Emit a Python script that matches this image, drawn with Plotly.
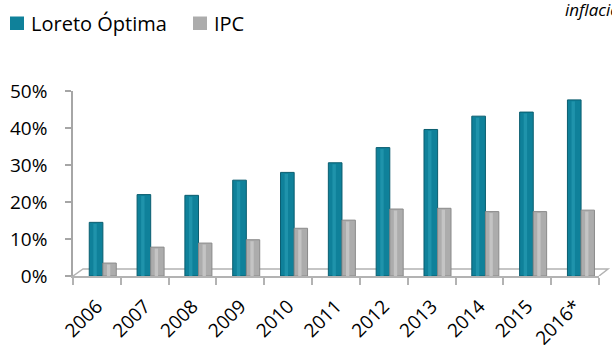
import plotly.graph_objects as go

years = ["2006", "2007", "2008", "2009", "2010", "2011", "2012", "2013", "2014", "2015", "2016*"]
loreto = [14.5, 22.0, 21.8, 25.9, 28.0, 30.6, 34.7, 39.6, 43.2, 44.3, 47.6]
ipc = [3.5, 7.8, 8.9, 9.8, 12.9, 15.1, 18.1, 18.3, 17.4, 17.4, 17.8]
series_names = ["Loreto Óptima", "IPC"]
colors = ["#0f819a", "#acacac"]
edge_colors = ["#0a5d6f", "#8a8a8a"]
shine_colors = ["#1f93ab", "#c4c4c4"]

W, H = 612, 345
ML, MR, MT, MB = 73, 13, 91, 69
PW, PH = W - ML - MR, H - MT - MB


def px(x):
    return (x - ML) / PW


def py(y):
    return (H - MB - y) / PH


FONT = "Open Sans"

fig = go.Figure()
for vals, i, off, wd in [(loreto, 0, -0.16, 0.285), (ipc, 1, 0.125, 0.28)]:
    fig.add_trace(go.Bar(
        x=years, y=vals, name=series_names[i],
        offset=off, width=wd,
        marker=dict(color=colors[i], line=dict(color=edge_colors[i], width=1)),
    ))
    # soft highlight to suggest the cylindrical shading
    fig.add_trace(go.Bar(
        x=years, y=[v - 0.4 for v in vals], name=series_names[i], showlegend=False,
        offset=off + wd * 0.3, width=wd * 0.25, hoverinfo="skip",
        marker=dict(color=shine_colors[i], line=dict(width=0)),
    ))

# 3D floor outline
floor_depth = 1.9
shapes = [
    dict(type="path", xref="paper", yref="y",
         path=f"M 0 0 L {px(83)} {floor_depth} L {px(608)} {floor_depth} L 1 0",
         line=dict(color="#b3b3b3", width=1.5), layer="below"),
]

# legend built as squares + labels
legend_items = [(10, 29, 0), (193, 212, 1)]
annotations = []
for sx, tx, i in legend_items:
    shapes.append(dict(type="rect", xref="paper", yref="paper",
                       x0=px(sx), x1=px(sx + 14), y0=py(30), y1=py(16.5),
                       fillcolor=colors[i], line=dict(width=0)))
    annotations.append(dict(xref="paper", yref="paper", x=px(tx), y=py(24),
                            xanchor="left", yanchor="middle", showarrow=False,
                            text=series_names[i],
                            font=dict(family=FONT, size=20, color="#000000")))

annotations.append(dict(xref="paper", yref="paper", x=px(563), y=py(9.5),
                        xanchor="left", yanchor="middle", showarrow=False,
                        text="<i>inflación</i>",
                        font=dict(family=FONT, size=17, color="#000000")))

fig.update_layout(
    width=W, height=H,
    margin=dict(l=ML, r=MR, t=MT, b=MB, pad=0, autoexpand=False),
    paper_bgcolor="white", plot_bgcolor="white",
    barmode="overlay", showlegend=False,
    shapes=shapes, annotations=annotations,
    font=dict(family=FONT, size=19, color="#000000"),
)
fig.update_xaxes(
    type="category", showgrid=False, showline=True, linecolor="#b3b3b3", linewidth=1.5,
    ticks="outside", ticklen=7, tickcolor="#b3b3b3", tickwidth=1.5, tickson="boundaries",
    tickangle=-45, ticklabelstandoff=10, automargin=False,
    tickfont=dict(family=FONT, size=19, color="#000000"),
)
fig.update_yaxes(
    range=[0, 50], dtick=10, ticksuffix="%", showgrid=False, zeroline=False,
    showline=True, linecolor="#a6a6a6", linewidth=1.5,
    ticks="outside", ticklen=6, tickcolor="#a6a6a6", tickwidth=1.5,
    ticklabelstandoff=14, automargin=False,
    tickfont=dict(family=FONT, size=19, color="#000000"),
)

fig.write_html("out.html")
